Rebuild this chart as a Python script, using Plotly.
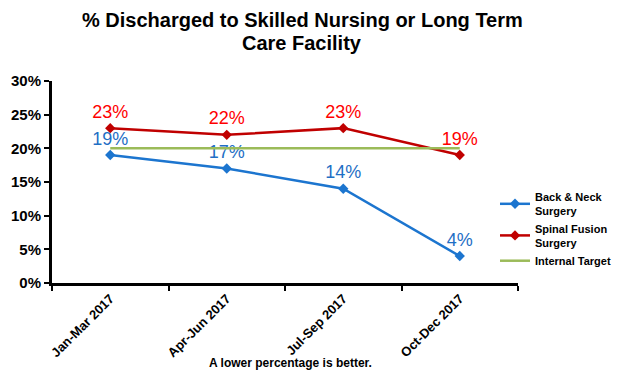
import plotly.graph_objects as go

categories = ["Jan-Mar 2017", "Apr-Jun 2017", "Jul-Sep 2017", "Oct-Dec 2017"]
back_neck = [19, 17, 14, 4]
spinal_fusion = [23, 22, 23, 19]
internal_target = [20, 20, 20, 20]
y_ticks = [0, 5, 10, 15, 20, 25, 30]

FONT = "Liberation Sans, Arial, sans-serif"
L, R, W = 44, 102, 612
PW = W - L - R

fig = go.Figure()
fig.add_trace(go.Scatter(
    x=categories, y=back_neck, name="<b>Back & Neck<br>Surgery</b>",
    mode="lines+markers+text", line=dict(color="#1C75CF", width=2.5),
    marker=dict(symbol="diamond", size=8, color="#1C75CF"),
    text=[f"{v}%" for v in back_neck], textposition="top center",
    textfont=dict(family=FONT, size=18, color="#1F6FC5"),
))
fig.add_trace(go.Scatter(
    x=categories, y=spinal_fusion, name="<b>Spinal Fusion<br>Surgery</b>",
    mode="lines+markers+text", line=dict(color="#C00000", width=2.5),
    marker=dict(symbol="diamond", size=8, color="#C00000"),
    text=[f"{v}%" for v in spinal_fusion], textposition="top center",
    textfont=dict(family=FONT, size=18, color="#FF0000"),
))
fig.add_trace(go.Scatter(
    x=categories, y=internal_target, name="<b>Internal Target</b>",
    mode="lines", line=dict(color="#9BBB59", width=2.5),
))

fig.update_layout(
    width=W, height=366,
    paper_bgcolor="white", plot_bgcolor="white",
    margin=dict(l=L, r=R, t=73, b=91, autoexpand=False),
    font=dict(family=FONT, color="black"),
    showlegend=True,
    legend=dict(x=(487 - L) / PW, xanchor="left", y=0.495, yanchor="top",
                font=dict(family=FONT, size=11, color="black"),
                tracegroupgap=0, itemwidth=30, bgcolor="rgba(0,0,0,0)"),
    annotations=[
        dict(text="<b>% Discharged to Skilled Nursing or Long Term</b>",
             x=(294 - L) / PW, xref="paper", y=1.302, yref="paper", xanchor="center", yanchor="middle",
             showarrow=False, font=dict(family=FONT, size=20, color="black")),
        dict(text="<b>Care Facility</b>",
             x=(294 - L) / PW, xref="paper", y=1.188, yref="paper", xanchor="center", yanchor="middle",
             showarrow=False, font=dict(family=FONT, size=20, color="black")),
        dict(text="<b>A lower percentage is better.</b>", x=(282 - L) / PW, xref="paper",
             y=-0.396, yref="paper", xanchor="center", yanchor="middle", showarrow=False,
             font=dict(family=FONT, size=12, color="black")),
    ],
)

fig.update_xaxes(
    range=[-0.5, 3.5],
    showline=True, linecolor="black", linewidth=3, ticks="outside", tickson="boundaries",
    ticklen=5, tickwidth=2, tickcolor="black", tickangle=-45, showgrid=False,
    tickfont=dict(family=FONT, size=13, color="black"),
    tickprefix="<b>", ticksuffix="</b>", automargin=False,
)
fig.update_yaxes(
    range=[0, 30], tickvals=y_ticks, ticktext=[f"<b>{v}%</b>" for v in y_ticks],
    showline=True, linecolor="black", linewidth=3, ticks="outside", ticklen=5, tickwidth=2,
    tickcolor="black", showgrid=False, zeroline=False, automargin=False,
    tickfont=dict(family=FONT, size=15, color="black"),
)

fig.write_html("out.html")
